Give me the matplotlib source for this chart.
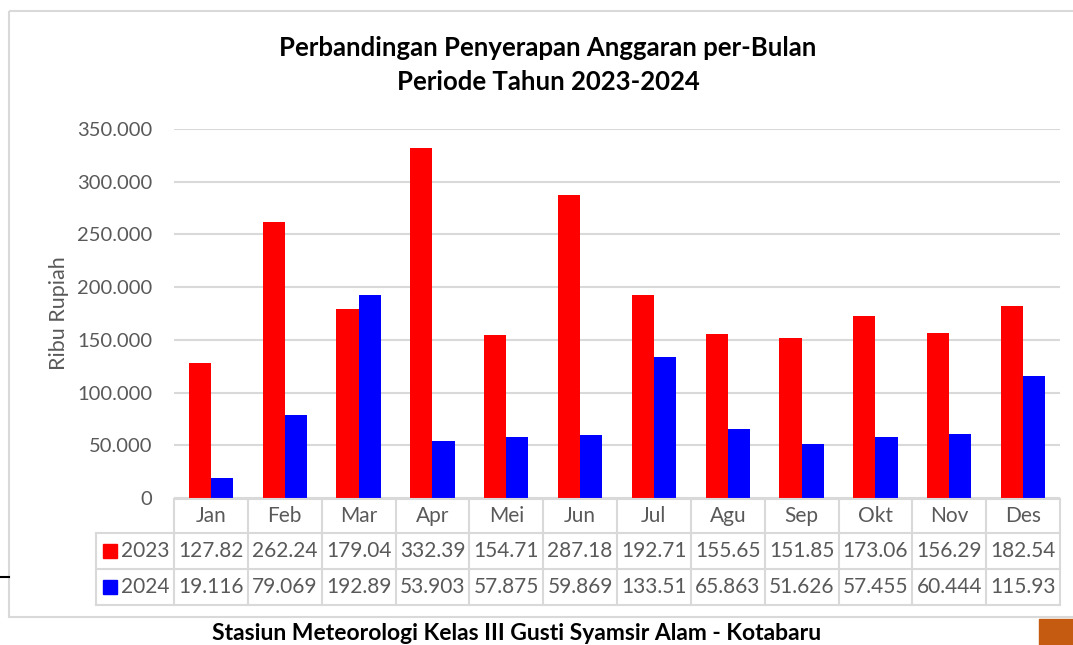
import matplotlib
matplotlib.use("Agg")
import matplotlib.pyplot as plt
from matplotlib.patches import Rectangle

plt.rcParams['font.family'] = ['Lato', 'DejaVu Sans']

months = ['Jan', 'Feb', 'Mar', 'Apr', 'Mei', 'Jun', 'Jul', 'Agu', 'Sep', 'Okt', 'Nov', 'Des']
val2023 = [127.82, 262.24, 179.04, 332.39, 154.71, 287.18, 192.71, 155.65, 151.85, 173.06, 156.29, 182.54]
val2024 = [19.116, 79.069, 192.89, 53.903, 57.875, 59.869, 133.51, 65.863, 51.626, 57.455, 60.444, 115.93]
series = ['2023', '2024']
colors = ['#ff0000', '#0000ff']
yticks = [0, 50, 100, 150, 200, 250, 300, 350]

W, H = 1073, 645
grid_c = '#d9d9d9'
txt_c = '#595959'

fig = plt.figure(figsize=(W / 100, H / 100), dpi=100)

# plot area in pixels
x0, x1 = 174, 1060
y_top, y_bot = 129, 498
ax = fig.add_axes([x0 / W, 1 - y_bot / H, (x1 - x0) / W, (y_bot - y_top) / H])
n = len(months)
xs = list(range(n))
bw = 0.3
ax.bar([x - bw / 2 for x in xs], val2023, bw, color=colors[0], zorder=3)
ax.bar([x + bw / 2 for x in xs], val2024, bw, color=colors[1], zorder=3)
ax.set_xlim(-0.5, n - 0.5)
ax.set_ylim(0, 350)
ax.set_yticks(yticks)
ax.set_yticklabels(['0' if v == 0 else f'{v:.3f}' for v in yticks], fontsize=14.5, color=txt_c)
ax.tick_params(axis='y', length=0, pad=15.5)
ax.set_xticks([])
ax.grid(axis='y', color=grid_c, linewidth=1.5, zorder=0)
for s in ax.spines.values():
    s.set_visible(False)
ax.set_ylabel('Ribu Rupiah', fontsize=15.5, color=txt_c, labelpad=6)

# overlay in pixel coordinates for frame, table and texts
ov = fig.add_axes([0, 0, 1, 1], zorder=-1)
ov.set_xlim(0, W)
ov.set_ylim(H, 0)
ov.axis('off')
ov.add_patch(Rectangle((9, 11), W + 20, 606, fill=False, edgecolor=grid_c, linewidth=1.5))
ov.plot([0, 9], [577, 577], color='black', linewidth=1.5)
ov.add_patch(Rectangle((1039, 619), 40, 30, color='#c55a11'))

ov2 = fig.add_axes([0, 0, 1, 1], zorder=5)
ov2.set_xlim(0, W)
ov2.set_ylim(H, 0)
ov2.axis('off')
ov2.patch.set_alpha(0)

cw = (x1 - x0) / n
lab_x = 96
rows = [499, 533, 569, 605]
# horizontal table lines
ov2.plot([x0, x1], [rows[0], rows[0]], color=grid_c, linewidth=1.5)
for r in rows[1:]:
    ov2.plot([lab_x, x1], [r, r], color=grid_c, linewidth=1.5)
# vertical table lines
ov2.plot([lab_x, lab_x], [rows[1], rows[3]], color=grid_c, linewidth=1.5)
for i in range(n + 1):
    xv = x0 + i * cw
    ov2.plot([xv, xv], [rows[0], rows[3]], color=grid_c, linewidth=1.5)
for i, m in enumerate(months):
    cx = x0 + (i + 0.5) * cw
    ov2.text(cx, (rows[0] + rows[1]) / 2, m, ha='center', va='center', fontsize=15, color=txt_c)
    for j, vals in enumerate([val2023, val2024]):
        ov2.text(cx, (rows[j + 1] + rows[j + 2]) / 2, f'{vals[i]:.5g}', ha='center', va='center',
                 fontsize=15, color=txt_c)
for j, s in enumerate(series):
    yc = (rows[j + 1] + rows[j + 2]) / 2
    ov2.add_patch(Rectangle((103, yc - 7), 14, 14, color=colors[j]))
    ov2.text(121, yc, s, ha='left', va='center', fontsize=15, color=txt_c)

ov2.text(548, 48, 'Perbandingan Penyerapan Anggaran per-Bulan', ha='center', va='center',
         fontsize=18.5, fontweight='bold', color='black')
ov2.text(548, 82, 'Periode Tahun 2023-2024', ha='center', va='center',
         fontsize=18.5, fontweight='bold', color='black')
ov2.text(517, 633, 'Stasiun Meteorologi Kelas III Gusti Syamsir Alam - Kotabaru', ha='center', va='center',
         fontsize=16.5, fontweight='bold', color='black')

fig.savefig('out.png', dpi=100)
